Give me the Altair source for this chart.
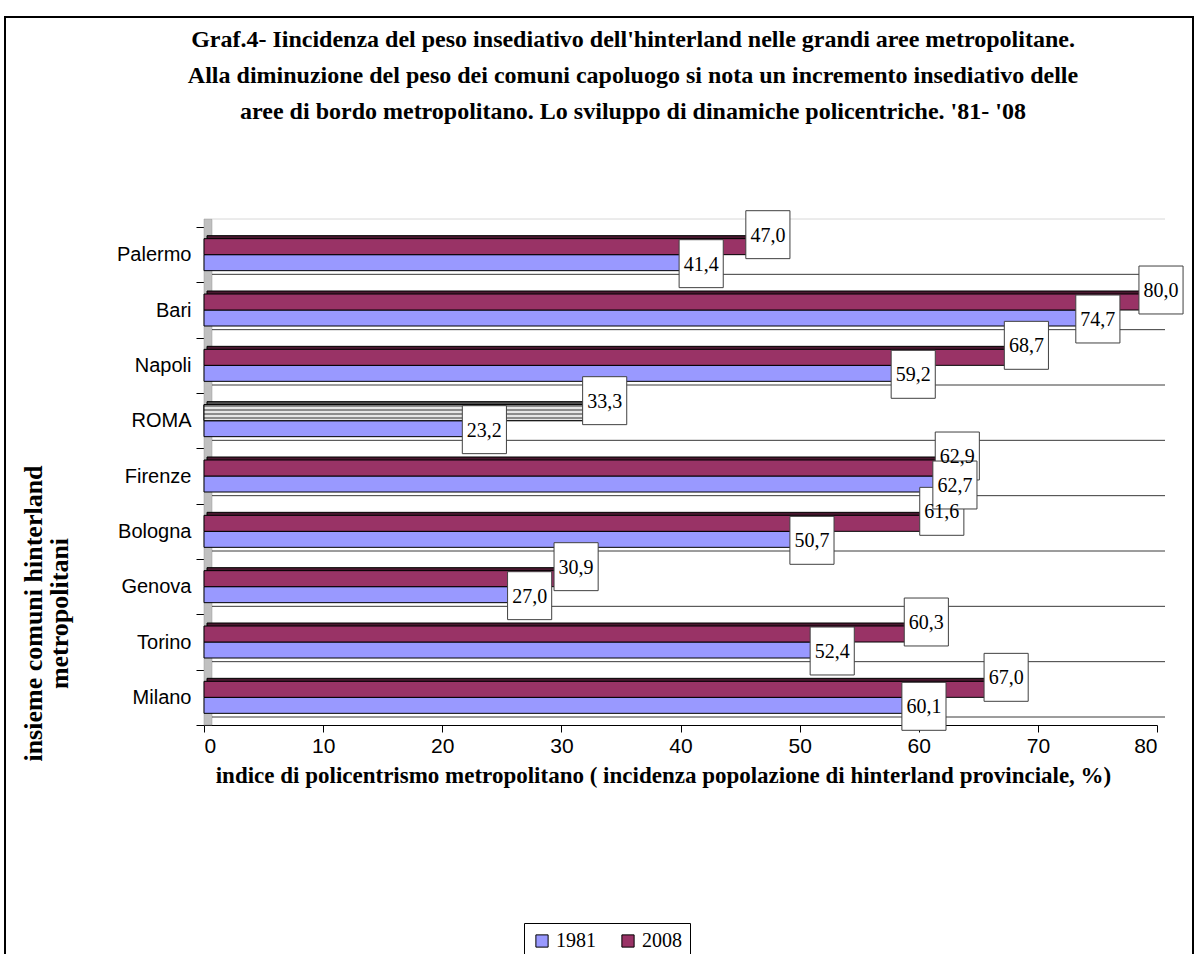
import altair as alt
import pandas as pd

# --- data -------------------------------------------------------------
cities = ["Palermo", "Bari", "Napoli", "ROMA", "Firenze",
          "Bologna", "Genova", "Torino", "Milano"]
v1981 = [41.4, 74.7, 59.2, 23.2, 62.7, 50.7, 27.0, 52.4, 60.1]
v2008 = [47.0, 80.0, 68.7, 33.3, 62.9, 61.6, 30.9, 60.3, 67.0]
years = ["1981", "2008"]
year_colors = ["#9999FF", "#993366"]
x_ticks = [0, 10, 20, 30, 40, 50, 60, 70, 80]

title_lines = [
    "Graf.4- Iincidenza del peso insediativo dell'hinterland nelle grandi aree metropolitane.",
    "Alla diminuzione del peso dei comuni capoluogo si nota un incremento insediativo delle",
    "aree di bordo metropolitano. Lo sviluppo di dinamiche policentriche. '81- '08",
]
x_title = ("indice di policentrismo metropolitano ( incidenza popolazione "
           "di hinterland provinciale, %)")
y_title = ["insieme comuni hinterland", "metropolitani"]

rows = []
for c, a, b in zip(cities, v1981, v2008):
    rows.append({"citta": c, "anno": "1981", "valore": a})
    rows.append({"citta": c, "anno": "2008", "valore": b})
df = pd.DataFrame(rows)
df["etichetta"] = df["valore"].map(lambda v: f"{v:.1f}".replace(".", ","))

# --- layout constants ---------------------------------------------------
W, H = 953, 498          # plot area
BAR = 16                 # bar thickness (px)
DEPTH = 3                # 3-D bar depth
WALL = 8                 # depth of the back wall
SERIF = "Liberation Serif"
SANS = "Liberation Sans"
BOX = "M-0.92,-1H0.92V1H-0.92Z"   # label box outline
LABEL_DY = {"2008": -20, "1981": 9}

base = alt.Chart(df)
one_row = pd.DataFrame({"k": [0]})
yscale = alt.Scale(paddingInner=0, paddingOuter=0)
xscale = alt.Scale(domain=[0, 80], nice=False)


def Y(**kw):
    return alt.Y("citta:N", sort=cities, scale=yscale, **kw)


def X():
    return alt.X("valore:Q", scale=xscale)


color_enc = alt.Color(
    "anno:N",
    scale=alt.Scale(domain=years, range=year_colors),
    legend=alt.Legend(
        title=None, orient="none", legendX=320, legendY=696,
        direction="horizontal", symbolType="square", symbolSize=150,
        symbolStrokeColor="black", symbolStrokeWidth=1, symbolOpacity=1,
        labelFont=SERIF, labelFontSize=20, labelColor="black",
        strokeColor="black", fillColor="white", padding=8,
        columnPadding=22, labelOffset=4,
    ),
)

# axes carried by an invisible layer
axes = base.mark_point(opacity=0).encode(
    x=alt.X("valore:Q", scale=xscale,
            axis=alt.Axis(
                values=x_ticks, grid=False, domainColor="black", tickColor="black",
                tickSize=7, labelFont=SANS, labelFontSize=21, labelColor="black",
                labelPadding=3, title=x_title, titleFont=SERIF, titleFontSize=23,
                titleFontWeight="bold", titleColor="black", titleX=459, titleY=50,
                titleAlign="center", titleBaseline="middle",
            )),
    y=alt.Y("citta:N", sort=cities, scale=yscale,
            axis=alt.Axis(
                grid=False, tickBand="extent", domainColor="black", tickColor="black",
                tickSize=8, labelFont=SANS, labelFontSize=20, labelColor="black",
                labelPadding=5, title=y_title, titleFont=SERIF, titleFontSize=26,
                titleFontWeight="bold", titleColor="black", titleAngle=270,
                titleX=-171, titleY=386, titleAlign="center",
                titleBaseline="middle", titleLineHeight=26,
            )),
)

# outer frame of the figure
frame = alt.Chart(one_row).mark_rect(
    fill="transparent", stroke="black", strokeWidth=2
).encode(
    x=alt.value(-199), x2=alt.value(989), y=alt.value(-210), y2=alt.value(760)
)

# chart heading, centred above the plot
heading = alt.Chart(one_row).mark_text(
    font=SERIF, fontSize=24, fontWeight="bold", color="black",
    align="center", baseline="middle", lineHeight=36,
).encode(x=alt.value(429), y=alt.value(-187), text=alt.value(title_lines))

# grey left wall of the 3-D box
wall = alt.Chart(one_row).mark_rect(
    fill="#c0c0c0", stroke="#9a9a9a", strokeWidth=0.5
).encode(
    x=alt.value(0), x2=alt.value(WALL), y=alt.value(-WALL), y2=alt.value(H)
)

# back-wall gridlines at the category boundaries
grid = base.transform_filter(alt.datum.anno == "1981").mark_rule(
    strokeWidth=1, yOffset=-WALL, xOffset=WALL, x2Offset=WALL
).encode(
    y=Y(bandPosition=0),
    x=alt.value(0), x2=alt.value(W),
    color=alt.condition(alt.datum.citta == "Palermo",
                        alt.value("#d8d8d8"), alt.value("#3a3a3a")),
)
grid_bottom = base.transform_filter(
    (alt.datum.anno == "1981") & (alt.datum.citta == "Milano")
).mark_rule(
    strokeWidth=1, yOffset=-WALL, xOffset=WALL, x2Offset=WALL, color="#3a3a3a"
).encode(y=Y(bandPosition=1), x=alt.value(0), x2=alt.value(W))


def back_bar(year, dy, fill_expr):
    return base.transform_filter(alt.datum.anno == year).mark_bar(
        height=BAR, yOffset=dy - DEPTH, xOffset=DEPTH, x2Offset=DEPTH,
        stroke="black", strokeWidth=1,
    ).encode(x=X(), y=Y(), fill=fill_expr)


back81 = back_bar("1981", BAR / 2, alt.value("#4a4a80"))
back08 = back_bar("2008", -BAR / 2,
                  alt.condition(alt.datum.citta == "ROMA",
                                alt.value("#505050"), alt.value("#4a1830")))


def front_bar(year, dy):
    return base.transform_filter(alt.datum.anno == year).mark_bar(
        height=BAR, yOffset=dy, stroke="black", strokeWidth=1, opacity=1
    ).encode(x=X(), y=Y(), color=color_enc)


front81 = front_bar("1981", BAR / 2)
front08 = front_bar("2008", -BAR / 2)

# striped fill for the highlighted bar
stops = []
for i in range(8):
    col = "#8c8c8c" if i % 2 == 0 else "#e6e6e6"
    stops.append(alt.GradientStop(offset=i / 8, color=col))
    stops.append(alt.GradientStop(offset=(i + 1) / 8, color=col))
stripes = alt.LinearGradient(gradient="linear", stops=stops, x1=0, x2=0, y1=0, y2=1)
roma = base.transform_filter(
    (alt.datum.anno == "2008") & (alt.datum.citta == "ROMA")
).mark_bar(
    height=BAR, yOffset=-BAR / 2, stroke="black", strokeWidth=1, color=stripes
).encode(x=X(), y=Y())


def label_box(year):
    return base.transform_filter(alt.datum.anno == year).mark_point(
        shape=BOX, size=2300, filled=True, fill="white", stroke="#404040",
        strokeWidth=1, opacity=1, xOffset=4, yOffset=LABEL_DY[year],
    ).encode(x=X(), y=Y())


def label_text(year):
    return base.transform_filter(alt.datum.anno == year).mark_text(
        font=SERIF, fontSize=20, color="black", align="center",
        baseline="middle", xOffset=4, yOffset=LABEL_DY[year] + 1,
    ).encode(x=X(), y=Y(), text="etichetta:N")


chart = alt.layer(
    axes, frame, heading, wall, grid, grid_bottom,
    back81, front81, back08, front08, roma,
    label_box("2008"), label_box("1981"),
    label_text("2008"), label_text("1981"),
).properties(
    width=W, height=H,
    padding={"left": 204, "top": 227, "right": 40, "bottom": 229},
    autosize=alt.AutoSizeParams(type="none"),
    background="white",
).configure_view(stroke="transparent")

chart.save("out.html", embed_options={"renderer": "svg", "actions": False})
